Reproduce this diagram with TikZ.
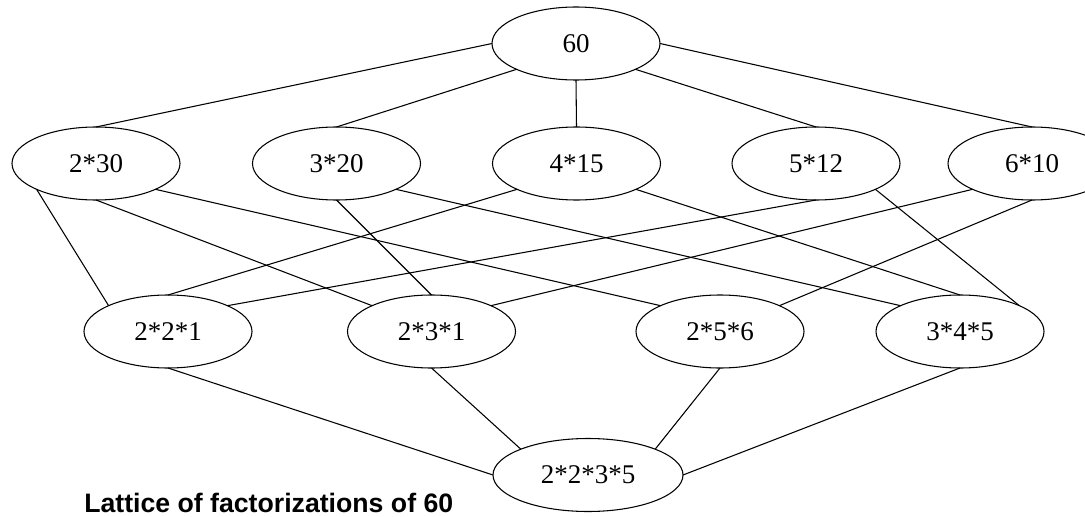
\documentclass[tikz,border=0pt]{standalone}
\usepackage{fontspec}
\setmainfont{Liberation Serif}
\newfontfamily\capfont{Liberation Sans}
\usetikzlibrary{shapes.geometric}
\begin{document}
\begin{tikzpicture}[x=0.75pt,y=-0.75pt,
  fnode/.style={ellipse,draw=black,fill=white,line width=0.8pt,minimum width=126pt,minimum height=54.75pt,inner sep=0pt,outer sep=0pt,font=\fontsize{20.25}{24}\selectfont},
  wide/.style={minimum width=142.5pt},
  link/.style={draw=black,line width=0.8pt},
  caption/.style={anchor=base west,inner sep=0pt,font=\capfont\bfseries\fontsize{20}{24}\selectfont}]
\useasboundingbox (0,0) rectangle (1085,517);
\begin{scope}
\clip (0,0) rectangle (1085,517);
\node[fnode] (n60) at (576,43.5) {60};
\node[fnode] (a230) at (96,163.5) {2*30};
\node[fnode] (a320) at (336.5,163.5) {3*20};
\node[fnode] (a415) at (576.5,163.5) {4*15};
\node[fnode] (a512) at (816,163.5) {5*12};
\node[fnode] (a610) at (1032,163.5) {6*10};
\node[fnode] (b221) at (168,331.5) {2*2*1};
\node[fnode] (b231) at (431.5,331.5) {2*3*1};
\node[fnode] (b256) at (720,331.5) {2*5*6};
\node[fnode] (b345) at (960,331.5) {3*4*5};
\node[fnode,wide] (c) at (588,475) {2*2*3*5};
% top level
\draw[link] (n60.west) -- (a230.north);
\draw[link] (n60.south west) -- (a320.north);
\draw[link] (n60.south) -- (a415.north);
\draw[link] (n60.south east) -- (a512.north);
\draw[link] (n60.east) -- (a610.north);
% second to third
\draw[link] (a230.south west) -- (b221.north west);
\draw[link] (a230.south) -- (b231.north west);
\draw[link] (a230.south east) -- (b256.north west);
\draw[link] (a320.south) -- (b231.north);
\draw[link] (a320.south east) -- (b345.north west);
\draw[link] (a415.south west) -- (b221.north);
\draw[link] (a415.south east) -- (b345.north);
\draw[link] (a512.south) -- (b221.north east);
\draw[link] (a512.south east) -- (b345.north east);
\draw[link] (a610.south west) -- (b231.north east);
\draw[link] (a610.south) -- (b256.north east);
% third to bottom
\draw[link] (b221.south) -- (c.west);
\draw[link] (b231.south) -- (c.north west);
\draw[link] (b256.south) -- (c.north east);
\draw[link] (b345.south) -- (c.east);
\end{scope}
\node[caption] (cap) at (84,512) {Lattice of factorizations of 60};
\end{tikzpicture}
\end{document}
